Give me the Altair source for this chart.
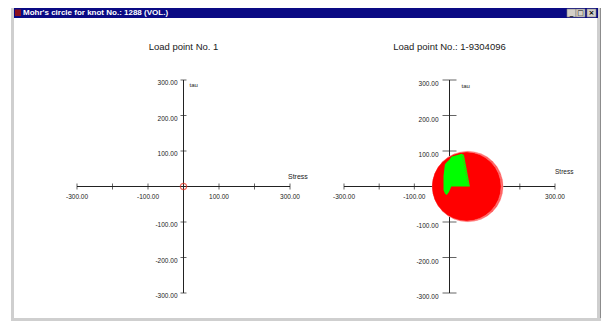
import altair as alt
import pandas as pd

# ---------------- data ----------------
window_title = "Mohr's circle for knot No.: 1288 (VOL.)"
panel_titles = ["Load point No. 1", "Load point No.: 1-9304096"]
axis_ticks = [-300, -200, -100, 100, 200, 300]
x_label_vals = [-300, -100, 100, 300]
y_label_vals = [300, 200, 100, -100, -200, -300]
axis_min, axis_max = -300, 300
x_axis_name = "Stress"
y_axis_name = "tau"

# left panel: single load point, zero stress state
left_sigma = [0]
left_tau = [0]

# right panel: overlapping Mohr circles (centre on sigma axis, radius)
mohr_center = [52, 51, 50, 49, 48]
mohr_radius = [100, 99, 98, 97, 96]

# right panel: green region (stress points) boundary
green_x = [-17, -13, -8, -2, 1, 5, 20, 35, 41, 58]
green_lo = [-10, -20, -24, -16, -10, 0, 0, 0, 0, 0]
green_hi = [30, 63, 68, 74, 77, 84, 88, 92, 89, 0]
olive_x = [37, 54]
olive_y = [88, 4]

FONT = "Liberation Sans"
TXT = "#1a1a1a"
LINE = "#222222"

W, H = 593, 313
one = pd.DataFrame({"a": [0]})
ys = alt.Scale(domain=[axis_min, axis_max], range=[285, 72])


def fmt(v):
    return f"{v:.2f}"


def panel(xrange, title, tick_size, ylab_dx, ylab_dy, tau_dx, tau_dy, stress_dx, stress_dy, stress_fs):
    xs = alt.Scale(domain=[axis_min, axis_max], range=xrange)
    X = lambda f: alt.X(f, scale=xs, axis=None)
    Y = lambda f: alt.Y(f, scale=ys, axis=None)
    layers = []
    hx = pd.DataFrame({"x": [axis_min], "x2": [axis_max], "y": [0]})
    layers.append(alt.Chart(hx).mark_rule(color=LINE, strokeWidth=1).encode(
        x=X("x:Q"), x2="x2:Q", y=Y("y:Q")))
    vy = pd.DataFrame({"x": [0], "y": [axis_min], "y2": [axis_max]})
    layers.append(alt.Chart(vy).mark_rule(color=LINE, strokeWidth=1).encode(
        x=X("x:Q"), y=Y("y:Q"), y2="y2:Q"))
    t = pd.DataFrame({"v": axis_ticks, "z": 0})
    layers.append(alt.Chart(t).mark_tick(orient="vertical", size=6, thickness=1, color=LINE).encode(
        x=X("v:Q"), y=Y("z:Q")))
    layers.append(alt.Chart(t).mark_tick(orient="horizontal", size=tick_size, thickness=1, color=LINE).encode(
        x=X("z:Q"), y=Y("v:Q")))
    xl = pd.DataFrame({"v": x_label_vals, "z": 0, "t": [fmt(v) for v in x_label_vals]})
    layers.append(alt.Chart(xl).mark_text(font=FONT, fontSize=6.5, color=TXT, dy=10.5, align="center", baseline="middle").encode(
        x=X("v:Q"), y=Y("z:Q"), text="t:N"))
    yl = pd.DataFrame({"v": y_label_vals, "z": 0, "t": [fmt(v) for v in y_label_vals]})
    layers.append(alt.Chart(yl).mark_text(font=FONT, fontSize=6.5, color=TXT, dx=ylab_dx, dy=ylab_dy, align="right", baseline="middle").encode(
        x=X("z:Q"), y=Y("v:Q"), text="t:N"))
    tl = pd.DataFrame({"x": [0], "y": [axis_max], "t": [y_axis_name]})
    layers.append(alt.Chart(tl).mark_text(font=FONT, fontSize=6, color=TXT, dx=tau_dx, dy=tau_dy, align="left", baseline="middle").encode(
        x=X("x:Q"), y=Y("y:Q"), text="t:N"))
    sl = pd.DataFrame({"x": [axis_max], "y": [0], "t": [x_axis_name]})
    layers.append(alt.Chart(sl).mark_text(font=FONT, fontSize=stress_fs, color=TXT, dx=stress_dx, dy=stress_dy, align="left", baseline="middle").encode(
        x=X("x:Q"), y=Y("y:Q"), text="t:N"))
    pt = pd.DataFrame({"x": [0], "y": [axis_max], "t": [title]})
    layers.append(alt.Chart(pt).mark_text(font=FONT, fontSize=9.5, color=TXT, dy=-33, align="center", baseline="middle").encode(
        x=X("x:Q"), y=Y("y:Q"), text="t:N"))
    return layers, X, Y


left_layers, LX, LY = panel([69, 282], panel_titles[0], 6, -6, 3, 6, 5, -2, -10, 7)
pts = pd.DataFrame({"x": left_sigma, "y": left_tau})
left_layers.append(alt.Chart(pts).mark_point(shape="circle", size=40, filled=False, color="#e8301c", strokeWidth=1.2).encode(
    x=LX("x:Q"), y=LY("y:Q")))

right_layers, RX, RY = panel([336, 547], panel_titles[1], 14, -11, 4, 12, 6, 0, -14.5, 6.5)
mohr = pd.DataFrame({"c": mohr_center, "r": mohr_radius, "z": 0, "k": list(range(len(mohr_center)))})
# circle symbol diameter = sqrt(size): radius 300 data units -> 106 px, diameter 212 px
sscale = alt.Scale(type="pow", exponent=2, zero=True, domain=[0, 300], range=[0, 212 * 212])
last = len(mohr_center) - 1
right_layers.append(alt.Chart(mohr).transform_filter(f"datum.k < {last}").mark_point(
    shape="circle", filled=True, fill="#ff0000", stroke="#ffc4c4", strokeWidth=0.5, opacity=1).encode(
    x=RX("c:Q"), y=RY("z:Q"), size=alt.Size("r:Q", scale=sscale, legend=None),
    order=alt.Order("k:Q")))
right_layers.append(alt.Chart(mohr).transform_filter(f"datum.k == {last}").mark_point(
    shape="circle", filled=True, fill="#ff0000", stroke="#ff0000", strokeWidth=0.5, opacity=1).encode(
    x=RX("c:Q"), y=RY("z:Q"), size=alt.Size("r:Q", scale=sscale, legend=None)))
green = pd.DataFrame({"x": green_x, "lo": green_lo, "hi": green_hi})
right_layers.append(alt.Chart(green).mark_area(color="#00ff00", opacity=1, orient="vertical").encode(
    x=RX("x:Q"), y=RY("lo:Q"), y2="hi:Q"))
olive = pd.DataFrame({"x": olive_x, "y": olive_y})
right_layers.append(alt.Chart(olive).mark_line(color="#7f8f10", strokeWidth=1, strokeDash=[1, 1]).encode(
    x=RX("x:Q"), y=RY("y:Q")))

# ---------------- window chrome ----------------
chrome = []
def rect(x, x2, y, y2, fill, stroke=None):
    kw = {"fill": fill}
    if stroke:
        kw["stroke"] = stroke
        kw["strokeWidth"] = 0.6
    return alt.Chart(one).mark_rect(**kw).encode(
        x=alt.value(x), x2=alt.value(x2), y=alt.value(y), y2=alt.value(y2))

chrome.append(rect(3, 6, 0, H, "#cfcfcf"))
chrome.append(rect(W - 4, W, 0, H, "#cfcfcf"))
chrome.append(rect(W - 1, W, 0, H, "#8c8c8c"))
chrome.append(rect(3, W, H - 3, H, "#cfcfcf"))
chrome.append(rect(6, W - 3, 0, 10, "#0a0a84"))
chrome.append(rect(7, 13, 1.5, 8, "#8a1020"))
chrome.append(alt.Chart(one).mark_text(text=window_title, font=FONT, fontSize=8, fontWeight="bold", color="white",
                                       align="left", baseline="middle").encode(x=alt.value(15), y=alt.value(5.3)))
for bx, glyph in [(W - 34, "_"), (W - 25, "□"), (W - 14, "×")]:
    chrome.append(rect(bx, bx + 9, 1, 9, "#d4d0c8", "#808080"))
    chrome.append(alt.Chart(one).mark_text(text=glyph, font="DejaVu Sans", fontSize=7, fontWeight="bold", color="black",
                                           align="center", baseline="middle").encode(x=alt.value(bx + 4.5), y=alt.value(5)))

chart = alt.layer(*chrome, *left_layers, *right_layers).resolve_scale(
    x="independent", y="independent", size="independent"
).properties(
    width=W, height=H, padding=0, autosize=alt.AutoSizeParams(type="none"), background="white"
).configure_view(stroke=None)

chart.save("out.html", embed_options={"renderer": "svg", "actions": False})
